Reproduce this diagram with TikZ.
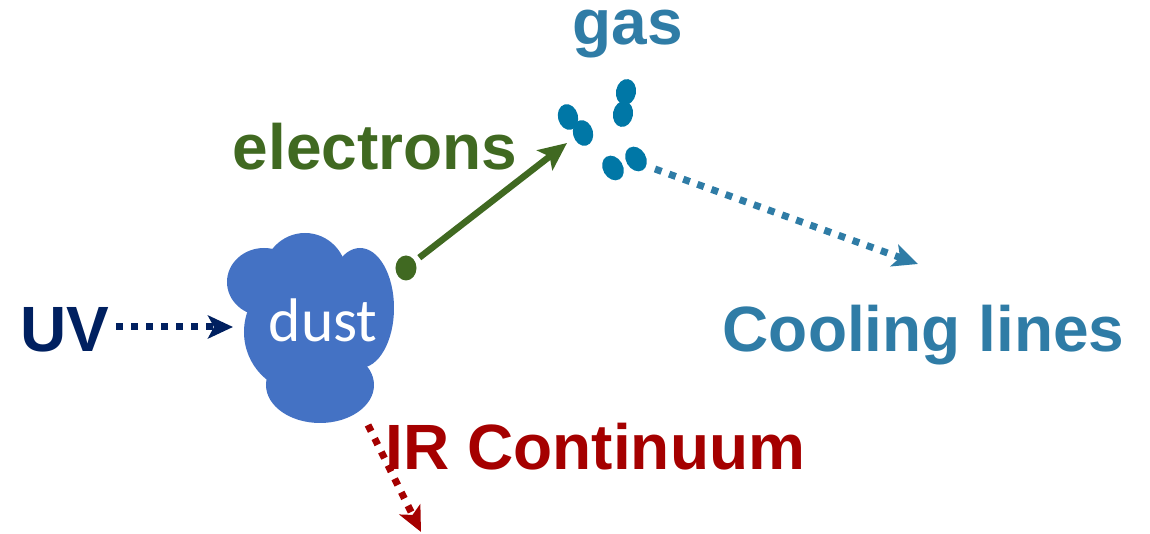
\documentclass[tikz,border=0pt]{standalone}
\usepackage{fontspec}
\setmainfont{Liberation Sans}
\newfontfamily\dustfont{Carlito}
\usetikzlibrary{arrows.meta,shapes.geometric}
\definecolor{uvblue}{RGB}{0,32,96}
\definecolor{elgreen}{RGB}{64,105,33}
\definecolor{gasblue}{RGB}{47,124,166}
\definecolor{partblue}{RGB}{0,119,166}
\definecolor{irred}{RGB}{165,0,0}
\definecolor{dustblue}{RGB}{68,114,196}
\tikzset{
  lbl/.style={anchor=base west, inner sep=0pt, font=\fontsize{18.2}{20}\selectfont\bfseries},
  dotarrow/.style={line width=0.07cm, dash pattern=on 0.07cm off 0.08cm,
    -{Stealth[length=0.25cm, width=0.23cm, inset=0.06cm]}},
}

\begin{document}
\begin{tikzpicture}[x=0.01cm, y=-0.01cm]
    \useasboundingbox (0,0) rectangle (1150,534);

    % Nuvem de poeira
    \fill[dustblue] (264,282) ellipse [x radius=37, y radius=34];
    \fill[dustblue] (305,276) ellipse [x radius=42, y radius=43];
    \fill[dustblue] (360,308) ellipse [x radius=34, y radius=60];
    \fill[dustblue] (302,332) ellipse [x radius=58, y radius=60];
    \fill[dustblue] (320,385) ellipse [x radius=54, y radius=38];
    \node[lbl, font=\dustfont\fontsize{17.5}{20}\selectfont, white] (dust) at (268,342) {dust};

    % Gas (pares de particulas)
    \foreach \x/\y/\a in {568/117/15, 583/133/15, 626/92/-10, 623/114/-10, 613/168/30, 636/159/30}
        \fill[partblue] (\x,\y) ellipse [x radius=10, y radius=13, rotate=\a];

    % Eletron
    \node[ellipse, fill=elgreen, minimum width=0.21cm, minimum height=0.25cm, inner sep=0pt] (dot) at (406,268) {};

    % Textos
    \node[lbl, uvblue] (uv) at (20,352) {UV};
    \node[lbl, elgreen] (electrons) at (232,170) {electrons};
    \node[lbl, gasblue] (gas) at (572,45) {gas};
    \node[lbl, gasblue] (cooling) at (722,352) {Cooling lines};
    \node[lbl, irred] (ir) at (385,470) {IR Continuum};

    % Pontos das setas
    \coordinate (uvstart) at (116,327);
    \coordinate (uvend) at (233,327);
    \coordinate (eltip) at (567,143);
    \coordinate (coolstart) at (655,169);
    \coordinate (coolend) at (918,264);
    \coordinate (irstart) at (368,425);
    \coordinate (irend) at (421,532);

    % Setas
    \draw[dotarrow, uvblue] (uvstart) -- (uvend);
    \draw[elgreen, line width=0.065cm, -{Stealth[length=0.28cm, width=0.25cm, inset=0.06cm]}, shorten <=0.05cm] (dot) -- (eltip);
    \draw[dotarrow, gasblue] (coolstart) -- (coolend);
    \draw[dotarrow, irred] (irstart) -- (irend);
\end{tikzpicture}
\end{document}
